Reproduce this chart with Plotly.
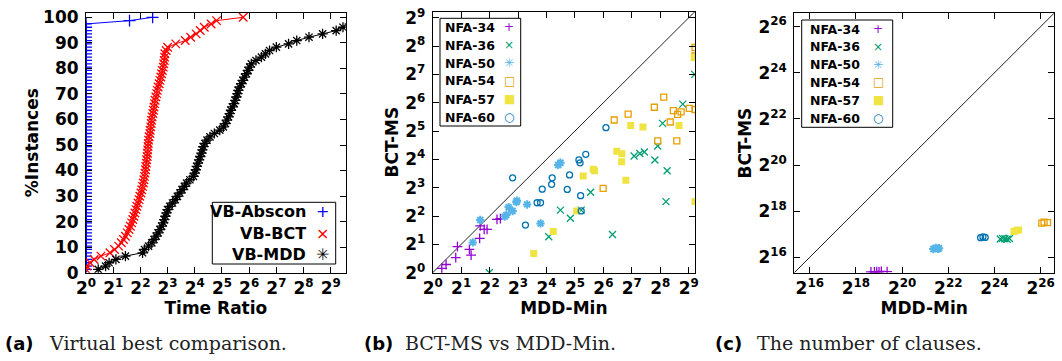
import numpy as np
import plotly.graph_objects as go

W, H = 1062, 361

# ---------------- Panel (a): virtual best comparison ----------------
pct_instances = [
    1.3, 2.6, 3.9, 5.2, 6.5, 7.8, 9.1, 10.4, 11.7, 13.0,
    14.3, 15.6, 16.9, 18.2, 19.5, 20.8, 22.1, 23.4, 24.7, 26.0,
    27.3, 28.6, 29.9, 31.2, 32.5, 33.8, 35.1, 36.4, 37.7, 39.0,
    40.3, 41.6, 42.9, 44.2, 45.5, 46.8, 48.1, 49.4, 50.6, 51.9,
    53.2, 54.5, 55.8, 57.1, 58.4, 59.7, 61.0, 62.3, 63.6, 64.9,
    66.2, 67.5, 68.8, 70.1, 71.4, 72.7, 74.0, 75.3, 76.6, 77.9,
    79.2, 80.5, 81.8, 83.1, 84.4, 85.7, 87.0, 88.3, 89.6, 90.9,
    92.2, 93.5, 94.8, 96.1, 97.4, 98.7, 100.0,
]
# time ratios, given as log2 of the ratio (axis is labelled in powers of two)
abscon_log2_ratio = [
    0.0, 0.0, 0.0, 0.0, 0.0, 0.0, 0.0, 0.0, 0.0, 0.0,
    0.0, 0.0, 0.0, 0.0, 0.0, 0.0, 0.0, 0.0, 0.0, 0.0,
    0.0, 0.0, 0.0, 0.0, 0.0, 0.0, 0.0, 0.0, 0.0, 0.0,
    0.0, 0.0, 0.0, 0.0, 0.0, 0.0, 0.0, 0.0, 0.0, 0.0,
    0.0, 0.0, 0.0, 0.0, 0.0, 0.0, 0.0, 0.0, 0.0, 0.0,
    0.0, 0.0, 0.0, 0.0, 0.0, 0.0, 0.0, 0.0, 0.0, 0.0,
    0.0, 0.0, 0.0, 0.0, 0.0, 0.0, 0.0, 0.0, 0.0, 0.0,
    0.0, 0.0, 0.0, 0.0, 0.0, 1.6, 2.45,
]
bct_log2_ratio = [
    0.0, 0.03, 0.15, 0.3, 0.55, 0.88, 1.05, 1.2, 1.3, 1.38,
    1.45, 1.52, 1.58, 1.63, 1.68, 1.72, 1.76, 1.8, 1.84, 1.87,
    1.91, 1.95, 1.98, 2.02, 2.05, 2.08, 2.11, 2.13, 2.15, 2.17,
    2.19, 2.2, 2.22, 2.23, 2.25, 2.26, 2.27, 2.28, 2.29, 2.3,
    2.32, 2.35, 2.36, 2.38, 2.4, 2.41, 2.43, 2.46, 2.48, 2.5,
    2.52, 2.54, 2.57, 2.6, 2.62, 2.65, 2.69, 2.72, 2.75, 2.78,
    2.81, 2.84, 2.86, 2.88, 2.89, 2.9, 2.95, 3.0, 3.3, 3.65,
    3.85, 4.05, 4.2, 4.35, 4.6, 4.8, 5.78,
]
mdd_log2_ratio = [
    0.45, 0.72, 0.85, 1.1, 1.45, 2.08, 2.15, 2.3, 2.42, 2.5,
    2.58, 2.65, 2.72, 2.78, 2.84, 2.88, 2.92, 2.96, 3.0, 3.08,
    3.18, 3.28, 3.36, 3.45, 3.53, 3.62, 3.7, 3.82, 3.95, 4.0,
    4.04, 4.07, 4.12, 4.16, 4.2, 4.25, 4.28, 4.31, 4.37, 4.45,
    4.56, 4.72, 4.92, 5.05, 5.13, 5.18, 5.24, 5.29, 5.33, 5.38,
    5.45, 5.49, 5.53, 5.57, 5.6, 5.65, 5.71, 5.77, 5.83, 5.9,
    5.96, 6.02, 6.08, 6.25, 6.45, 6.6, 6.75, 7.0, 7.45, 7.75,
    8.2, 8.7, 9.2, 9.45, 9.7, 10.1, 10.6,
]
vb_names = ["VB-Abscon", "VB-BCT", "VB-MDD"]
vb_colors = ["#0000ff", "#ff0000", "#000000"]
vb_symbols = ["cross-thin", "x-thin", "asterisk"]
vb_glyphs = ["+", "×", "✳"]

# ---------------- Panel (b): BCT-MS vs MDD-Min (log2 values) ----------------
nfa_names = ["NFA-34", "NFA-36", "NFA-50", "NFA-54", "NFA-57", "NFA-60"]
nfa_colors = ["#9400d3", "#009e73", "#56b4e9", "#e69f00", "#f0e442", "#0072b2"]
nfa_symbols = ["cross-thin", "x-thin", "asterisk", "square-open", "square", "circle-open"]
nfa_glyphs = ["+", "×", "✳", "□", "■", "○"]

b34_x = [0.32, 0.47, 0.81, 0.87, 1.29, 1.35, 1.65, 1.67, 1.81, 1.91, 2.26, 2.38]
b34_y = [0.15, 0.29, 0.53, 0.92, 0.82, 0.62, 1.21, 1.65, 1.53, 1.53, 1.88, 1.91]
b36_x = [1.99, 4.08, 4.49, 4.84, 5.22, 5.55, 6.32, 7.08, 7.28, 7.44, 7.81, 7.91, 8.08, 8.24, 8.2, 8.79, 9.21]
b36_y = [0.0, 1.27, 2.21, 1.92, 2.21, 2.84, 1.35, 4.12, 4.21, 4.26, 3.98, 4.47, 5.27, 3.6, 2.51, 5.95, 7.0]
b50_x = [1.41, 1.67, 2.53, 2.59, 2.67, 2.81, 2.94, 2.96, 3.32, 3.79, 4.41, 4.49]
b50_y = [1.07, 1.86, 1.98, 2.04, 2.31, 2.18, 2.49, 2.54, 2.41, 1.74, 3.8, 3.88]
b54_x = [5.99, 6.38, 6.87, 7.79, 7.91, 8.12, 8.35, 8.46, 8.61, 8.73, 8.58, 9.02, 9.22, 9.22, 9.22]
b54_y = [2.98, 5.39, 5.6, 5.84, 4.65, 6.2, 5.32, 5.72, 5.59, 5.68, 4.65, 5.8, 5.76, 7.95, 7.65]
b57_x = [3.55, 4.24, 5.06, 5.29, 5.64, 5.69, 6.47, 6.65, 6.64, 6.79, 6.96, 7.39, 8.66, 9.19, 9.22]
b57_y = [0.68, 1.45, 2.18, 3.41, 3.65, 3.6, 4.29, 4.2, 3.92, 3.26, 5.2, 5.14, 5.2, 7.6, 2.51]
b60_x = [2.81, 3.26, 3.67, 3.79, 3.85, 4.18, 4.2, 4.73, 4.81, 5.14, 5.18, 5.2, 5.22, 5.38, 6.09]
b60_y = [3.35, 1.68, 2.47, 2.47, 2.95, 3.12, 3.35, 2.94, 3.45, 3.98, 3.88, 2.72, 2.18, 4.18, 5.12]

# ---------------- Panel (c): number of clauses (log2 values) ----------------
c34_x = [18.65, 18.8, 18.9, 19.0, 19.1, 19.35]
c34_y = [15.37, 15.36, 15.38, 15.37, 15.39, 15.38]
c36_x = [24.25, 24.35, 24.45, 24.55, 24.65]
c36_y = [16.79, 16.82, 16.8, 16.78, 16.81]
c50_x = [21.35, 21.45, 21.55, 21.6]
c50_y = [16.36, 16.4, 16.37, 16.39]
c54_x = [26.05, 26.15, 26.3]
c54_y = [17.48, 17.52, 17.5]
c57_x = [24.85, 24.95, 25.05]
c57_y = [17.12, 17.16, 17.18]
c60_x = [23.4, 23.5, 23.6]
c60_y = [16.85, 16.88, 16.86]

# reference diagonals (y = x), log2 units
diag_b = [0, 10]
diag_c = [15, 27]

# axis extents (log2 exponents) and tick exponents
a_xrange_log2 = [0, 9.55]
a_yrange = [0, 101.8]
b_range_log2 = [0, 9.22]
c_range_log2 = [15.33, 26.58]
a_xtick_exp = [0, 1, 2, 3, 4, 5, 6, 7, 8, 9]
a_yticks = [0, 10, 20, 30, 40, 50, 60, 70, 80, 90, 100]
b_tick_exp = [0, 1, 2, 3, 4, 5, 6, 7, 8, 9]
c_tick_exp = [16, 18, 20, 22, 24, 26]

# ---------------- build figure ----------------
fig = go.Figure()

a_series = [abscon_log2_ratio, bct_log2_ratio, mdd_log2_ratio]
for name, vals, col, sym in zip(vb_names, a_series, vb_colors, vb_symbols):
    fig.add_trace(go.Scatter(
        x=np.exp2(vals), y=pct_instances, mode="lines+markers", name=name,
        line=dict(color=col, width=1),
        marker=dict(symbol=sym, size=8.5, color=col, line=dict(color=col, width=1.3)),
        xaxis="x", yaxis="y", showlegend=False))

fig.add_trace(go.Scatter(x=np.exp2(diag_b), y=np.exp2(diag_b), mode="lines",
                         line=dict(color="#222222", width=1), xaxis="x2", yaxis="y2",
                         showlegend=False, hoverinfo="skip"))
fig.add_trace(go.Scatter(x=np.exp2(diag_c), y=np.exp2(diag_c), mode="lines",
                         line=dict(color="#222222", width=1), xaxis="x3", yaxis="y3",
                         showlegend=False, hoverinfo="skip"))

b_series = [(b34_x, b34_y), (b36_x, b36_y), (b50_x, b50_y),
            (b54_x, b54_y), (b57_x, b57_y), (b60_x, b60_y)]
c_series = [(c34_x, c34_y), (c36_x, c36_y), (c50_x, c50_y),
            (c54_x, c54_y), (c57_x, c57_y), (c60_x, c60_y)]


def nfa_marker(sym, col):
    if sym in ("cross-thin", "x-thin"):
        return dict(symbol=sym, size=7, color=col, line=dict(color=col, width=1.3))
    if sym == "asterisk":
        return dict(symbol=sym, size=7, color=col, line=dict(color=col, width=2))
    if sym == "square":
        return dict(symbol=sym, size=7, color=col, line=dict(width=0))
    return dict(symbol=sym, size=6, color=col, line=dict(color=col, width=1.3))


for i, name in enumerate(nfa_names):
    xs, ys = b_series[i]
    fig.add_trace(go.Scatter(x=np.exp2(xs), y=np.exp2(ys), mode="markers", name=name,
                             marker=nfa_marker(nfa_symbols[i], nfa_colors[i]),
                             xaxis="x2", yaxis="y2", showlegend=False))
for i, name in enumerate(nfa_names):
    xs, ys = c_series[i]
    fig.add_trace(go.Scatter(x=np.exp2(xs), y=np.exp2(ys), mode="markers", name=name,
                             marker=nfa_marker(nfa_symbols[i], nfa_colors[i]),
                             xaxis="x3", yaxis="y3", showlegend=False))

# ---------------- layout ----------------
def px_x(p):
    return p / W


def px_y(p):
    return 1 - p / H


LOG2 = np.log10(2)
tick_font = dict(family="DejaVu Sans", size=17, color="black", weight="bold")
title_font = dict(family="DejaVu Sans", size=17, color="black", weight="bold")

base_axis = dict(showline=True, linecolor="black", linewidth=1, mirror="allticks",
                 ticks="inside", ticklen=6, tickcolor="black", tickwidth=1,
                 showgrid=False, zeroline=False, automargin=False, tickfont=tick_font)


def pow2_axis(exps, rng, domain, anchor, title, standoff, extra=None):
    d = dict(base_axis)
    d.update(type="log", range=[rng[0] * LOG2, rng[1] * LOG2], domain=domain, anchor=anchor,
             tickmode="array", tickvals=[2.0 ** e for e in exps],
             ticktext=[f"2<sup>{e}</sup>" for e in exps],
             title=dict(text=title, font=title_font, standoff=standoff))
    if extra:
        d.update(extra)
    return d


dom_a_x = [px_x(86), px_x(345.7)]
dom_b_x = [px_x(432.7), px_x(695)]
dom_c_x = [px_x(794.3), px_x(1054)]
dom_a_y = [px_y(272.7), px_y(12.7)]
dom_b_y = [px_y(272.7), px_y(11.5)]
dom_c_y = [px_y(272.7), px_y(13.3)]

ya = dict(base_axis)
ya.update(range=a_yrange, domain=dom_a_y, anchor="x", tickmode="array", tickvals=a_yticks,
          title=dict(text="%Instances", font=title_font, standoff=0), ticklabelstandoff=3)

fig.update_layout(
    width=W, height=H, margin=dict(l=0, r=0, t=0, b=0),
    paper_bgcolor="white", plot_bgcolor="white", template="none",
    showlegend=False,
    xaxis=pow2_axis(a_xtick_exp, a_xrange_log2, dom_a_x, "y", "Time Ratio", 0),
    yaxis=ya,
    xaxis2=pow2_axis(b_tick_exp, b_range_log2, dom_b_x, "y2", "MDD-Min", 0),
    yaxis2=pow2_axis(b_tick_exp, b_range_log2, dom_b_y, "x2", "BCT-MS", 2,
                     dict(ticklabelstandoff=3)),
    xaxis3=pow2_axis(c_tick_exp, c_range_log2, dom_c_x, "y3", "MDD-Min", 0),
    yaxis3=pow2_axis(c_tick_exp, c_range_log2, dom_c_y, "x3", "BCT-MS", 2,
                     dict(ticklabelstandoff=3)),
)

shapes = []
annotations = []

# legend of panel (a): right-aligned text with symbol on the right
shapes.append(dict(type="rect", xref="paper", yref="paper",
                   x0=px_x(212.3), x1=px_x(335.7), y0=px_y(264), y1=px_y(202.3),
                   line=dict(color="black", width=1), fillcolor="white", layer="above"))
for name, col, g, yy in zip(vb_names, vb_colors, vb_glyphs, [211, 233.3, 254]):
    annotations.append(dict(xref="paper", yref="paper", x=px_x(307.7), y=px_y(yy),
                            xanchor="right", yanchor="middle", showarrow=False, text=name,
                            font=dict(family="DejaVu Sans", size=16, color="black", weight="bold")))
    annotations.append(dict(xref="paper", yref="paper", x=px_x(322.7), y=px_y(yy),
                            xanchor="center", yanchor="middle", showarrow=False, text=g,
                            font=dict(family="DejaVu Sans", size=16, color=col)))

# legends of panels (b) and (c)
for (bx0, bx1, by0, by1, tx, gx, ys) in [
        (440, 520.7, 18.3, 126, 443.3, 509.3, [27.3, 45, 63.3, 80.7, 99, 117.3]),
        (801.7, 892.7, 20, 127.3, 808.3, 878.3, [29, 46.8, 64.6, 82.4, 100.2, 118])]:
    shapes.append(dict(type="rect", xref="paper", yref="paper",
                       x0=px_x(bx0), x1=px_x(bx1), y0=px_y(by1), y1=px_y(by0),
                       line=dict(color="black", width=1), fillcolor="white", layer="above"))
    for name, col, g, yy in zip(nfa_names, nfa_colors, nfa_glyphs, ys):
        annotations.append(dict(xref="paper", yref="paper", x=px_x(tx), y=px_y(yy),
                                xanchor="left", yanchor="middle", showarrow=False, text=name,
                                font=dict(family="DejaVu Sans", size=12.5, color="black",
                                          weight="bold")))
        annotations.append(dict(xref="paper", yref="paper", x=px_x(gx), y=px_y(yy),
                                xanchor="center", yanchor="middle", showarrow=False, text=g,
                                font=dict(family="DejaVu Sans", size=12, color=col)))

# sub-figure captions
for lab, lx, txt, tx in [("(a)", 3, "Virtual best comparison.", 47),
                         ("(b)", 362, "BCT-MS vs MDD-Min.", 403),
                         ("(c)", 713, "The number of clauses.", 755)]:
    annotations.append(dict(xref="paper", yref="paper", x=px_x(lx), y=px_y(343),
                            xanchor="left", yanchor="middle", showarrow=False, text=lab,
                            font=dict(family="DejaVu Sans", size=18, color="black",
                                      weight="bold")))
    annotations.append(dict(xref="paper", yref="paper", x=px_x(tx), y=px_y(343),
                            xanchor="left", yanchor="middle", showarrow=False, text=txt,
                            font=dict(family="DejaVu Serif", size=19, color="#222222")))

fig.update_layout(shapes=shapes, annotations=annotations)
fig.write_html("out.html", config={"displayModeBar": False},
               post_script="document.body.style.margin='0';document.body.style.overflow='hidden';")
